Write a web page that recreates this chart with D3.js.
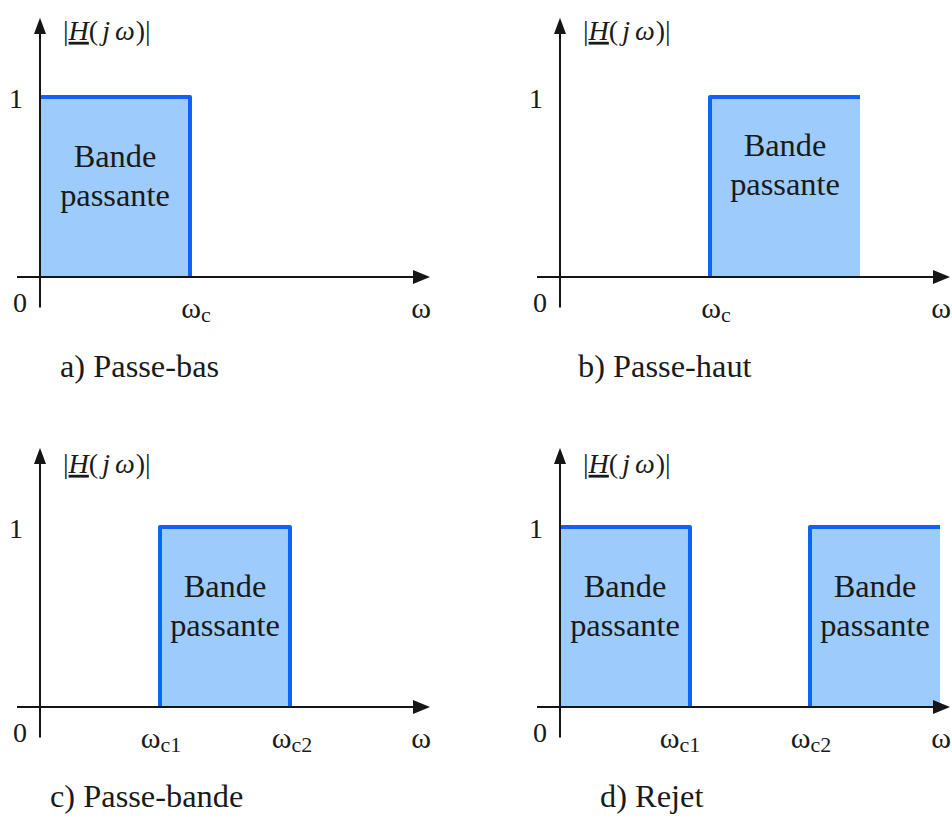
<!DOCTYPE html>
<html>
<head>
<meta charset="utf-8">
<script src="https://cdn.jsdelivr.net/npm/d3@7"></script>
</head>
<body style="margin:0">
<svg id="chart" width="952" height="818"></svg>
<script>
// ---- data ----
const captions = ["a) Passe-bas", "b) Passe-haut", "c) Passe-bande", "d) Rejet"];
const bandStarts = [[0], [15], [12], [0, 25]];
const bandEnds = [[15], [30], [25], [13, 38]];
const bandGain = [[1], [1], [1], [1, 1]];
const cutoffs = [[15], [15], [12, 25], [13, 25]];
const cutoffNames = [["c"], ["c"], ["c1", "c2"], ["c1", "c2"]];
const cutoffLabelPos = [[15.6], [15.6], [12.1, 25.2], [12.0, 25.1]];
const bandLabelLevel = [[0.5], [0.56], [0.5], [0.5, 0.5]];
const bandLabelLines = ["Bande", "passante"];
const yTicks = [0, 1];
const xLabel = "ω";

// ---- layout ----
const fontName = "Liberation Serif";
const svg = d3.select("#chart");
const origins = [[40, 277], [560, 277], [40, 707], [560, 707]];
const blue = "#0a64f5";
const fill = "#9dcbfb";
const ink = "#1a1a1a";

function txt(sel) {
  return sel.style("font-family", () => `"${fontName}", monospace`).style("fill", ink);
}

const marks = svg.append("g");

origins.forEach((o, i) => {
  const [ox, oy] = o;
  const x = d3.scaleLinear().domain([0, 39]).range([ox, ox + 390]);
  const y = d3.scaleLinear().domain([0, 1]).range([oy, oy - 180]);
  const g = marks.append("g");

  const bands = bandStarts[i].map((s, k) => ({ s, e: bandEnds[i][k], v: bandGain[i][k], ly: bandLabelLevel[i][k] }));

  // fills
  g.selectAll("rect.band").data(bands).join("rect")
    .attr("class", "band")
    .attr("x", d => x(d.s)).attr("y", d => y(d.v))
    .attr("width", d => x(d.e) - x(d.s)).attr("height", d => y(0) - y(d.v))
    .attr("fill", fill);

  // blue edges
  bands.forEach(d => {
    const leftBlue = cutoffs[i].includes(d.s);
    const rightBlue = cutoffs[i].includes(d.e);
    let path = "";
    if (leftBlue) path += `M${x(d.s)},${y(0)}L${x(d.s)},${y(d.v)}`; else path += `M${x(d.s)},${y(d.v)}`;
    path += `L${x(d.e)},${y(d.v)}`;
    if (rightBlue) path += `L${x(d.e)},${y(0)}`;
    g.append("path").attr("d", path).attr("fill", "none")
      .attr("stroke", blue).attr("stroke-width", 4).attr("stroke-linejoin", "round");
  });

  // axes
  const axisColor = "#151515";
  g.append("line").attr("x1", x(-2.3)).attr("x2", x(37.5)).attr("y1", y(0)).attr("y2", y(0))
    .attr("stroke", axisColor).attr("stroke-width", 2);
  g.append("path").attr("d", `M${x(39)},${y(0)}L${x(37.3)},${y(0) - 7}L${x(37.3)},${y(0) + 7}Z`).attr("fill", axisColor);
  g.append("line").attr("x1", x(0)).attr("x2", x(0)).attr("y1", y(-0.17)).attr("y2", y(1.36))
    .attr("stroke", axisColor).attr("stroke-width", 2);
  g.append("path").attr("d", `M${x(0)},${y(1.44)}L${x(0) - 6},${y(1.35)}L${x(0) + 6},${y(1.35)}Z`).attr("fill", axisColor);

  // ---- texts: appended directly to the svg root ----
  // y tick labels
  yTicks.forEach(d => {
    svg.append("text")
      .attr("x", d === 0 ? x(0) - 20 : x(0) - 24)
      .attr("y", d === 0 ? y(0) + 35 : y(d) + 11)
      .attr("text-anchor", "middle").attr("font-size", 28)
      .call(txt).text(d);
  });

  // y label |H(jω)|
  const yl = svg.append("text").attr("x", x(0) + 23).attr("y", i < 2 ? y(1.44) + 22 : y(1.44) + 25)
    .attr("font-size", 28).call(txt);
  const parts = [["|", "normal", 0, false], ["H", "italic", 0, true], ["(", "normal", 0, false],
                 ["j", "italic", 4, false], ["ω", "italic", 5, false], [")", "normal", 1, false], ["|", "normal", 0, false]];
  parts.forEach(([s, st, dx, ul]) => {
    const ts = yl.append("tspan").attr("dx", dx).call(txt).style("font-style", st).text(s);
    if (ul) ts.style("text-decoration", "underline");
  });

  // x label ω
  svg.append("text").attr("x", x(38.1)).attr("y", y(0) + 41).attr("text-anchor", "middle")
    .attr("font-size", 30).call(txt).text(xLabel);

  // cutoff labels
  cutoffs[i].forEach((c, k) => {
    const t = svg.append("text").attr("x", x(cutoffLabelPos[i][k])).attr("y", y(0) + 41)
      .attr("text-anchor", "middle").attr("font-size", 30).call(txt);
    t.append("tspan").call(txt).text("ω");
    t.append("tspan").call(txt).attr("font-size", 22).attr("dy", 4).text(cutoffNames[i][k]);
  });

  // band labels
  bands.forEach(d => {
    const cx = (x(d.s) + x(d.e)) / 2;
    const cy = y(d.ly);
    bandLabelLines.forEach((line, li) => {
      svg.append("text")
        .attr("transform", `translate(${cx},${cy - 20 + li * 39}) scale(1.08,1.03)`)
        .attr("x", 0).attr("y", 0).attr("text-anchor", "middle")
        .attr("font-size", 30).call(txt).text(line);
    });
  });

  // caption
  const capX = [60, 578, 50, 600][i];
  svg.append("text")
    .attr("transform", `translate(${capX},${y(0) + 100}) scale(1.08,1.05)`)
    .attr("x", 0).attr("y", 0).attr("font-size", 30).call(txt).text(captions[i]);
});
</script>
</body>
</html>
